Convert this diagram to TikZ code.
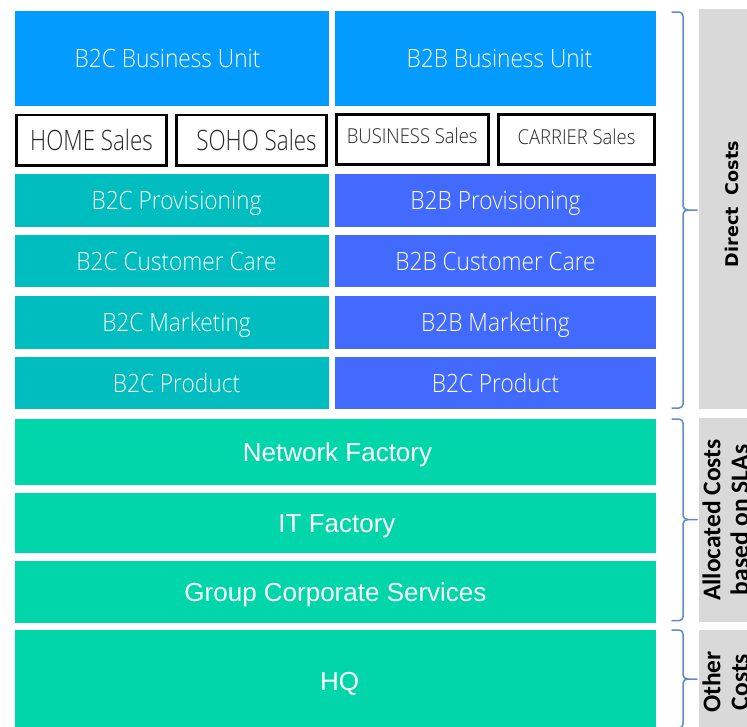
\documentclass[tikz,border=0pt]{standalone}
\usepackage{fontspec}
\setmainfont{Open Sans}
\newfontfamily\thinfont{Open Sans Light}[FakeStretch=0.9]
\newfontfamily\salesfont{Open Sans Light}[FakeStretch=0.8]
\newfontfamily\headfont{DejaVu Sans Bold}
\newfontfamily\factoryfont{Liberation Sans}
\newfontfamily\labelfont{Carlito}
\definecolor{bublue}{RGB}{3,155,254}
\definecolor{b2cteal}{RGB}{0,189,191}
\definecolor{b2bblue}{RGB}{66,106,255}
\definecolor{factory}{RGB}{0,214,169}
\definecolor{costgray}{RGB}{217,217,217}
\definecolor{bracecol}{RGB}{91,140,203}
% right-hand curly brace: top end, tip, bottom end (in px)
\newcommand\sidebrace[3]{%
  \draw[bracestyle] (672,#1) -- (679,#1) to[out=0,in=90] (683,#1+4) -- (683,#2-4)
        to[out=-90,in=180] (688,#2) -- (697,#2);
  \draw[bracestyle] (688,#2) to[out=180,in=90] (683,#2+4) -- (683,#3-4)
        to[out=-90,in=0] (679,#3) -- (672,#3);
}
\begin{document}
\begin{tikzpicture}[x=1pt,y=-1pt,
  cell/.style={inner sep=0pt, outer sep=0pt, text=white,
    text height=18pt, text depth=0pt,
    font=\thinfont\fontsize{25.2}{28}\selectfont},
  unit/.style={cell, fill=bublue, minimum height=94.5pt},
  b2ccell/.style={cell, fill=b2cteal, minimum width=314pt, minimum height=52.5pt},
  b2bcell/.style={cell, fill=b2bblue, minimum width=321pt, minimum height=52.5pt},
  sales/.style={inner sep=0pt, outer sep=0pt, draw=black, line width=2.7pt,
    fill=white, text=black!85, minimum height=50.3pt, text depth=0pt},
  bigsales/.style={sales, text height=20pt,
    font=\salesfont\fontsize{28}{32}\selectfont},
  smallsales/.style={sales, text height=14.5pt,
    font=\thinfont\fontsize{20.5}{24}\selectfont},
  fact/.style={inner sep=0pt, outer sep=0pt, fill=factory, text=white,
    minimum width=641pt, text height=18.6pt, text depth=0pt,
    font=\factoryfont\fontsize{26}{30}\selectfont},
  costbox/.style={fill=costgray, draw=none},
  costlabel/.style={rotate=90, align=center, text=black,
    font=\labelfont\bfseries\fontsize{25.5}{28}\selectfont},
  bracestyle/.style={draw=bracecol, line width=1.5pt, line cap=round, line join=round}]
\useasboundingbox (0,0) rectangle (747,726);
\clip (0,0) rectangle (747,726);

% business units
\node[unit, minimum width=314pt] (b2cbu) at (172,58.3) {B2C Business Unit\hspace*{9pt}};
\node[unit, minimum width=321pt] (b2bbu) at (495.5,58.3) {\hspace*{8pt}B2B Business Unit};

% sales channels
\node[bigsales, minimum width=150.3pt] (home) at (91.5,140) {HOME Sales};
\node[bigsales, minimum width=150.3pt] (soho) at (251.5,140) {\hspace*{10pt}SOHO Sales};
\node[smallsales, minimum width=151.8pt] (business) at (412.25,139.5) {\raisebox{3.5pt}{BUSINESS Sales}};
\node[smallsales, minimum width=156.3pt] (carrier) at (576.5,139.5) {\raisebox{2.5pt}{CARRIER Sales}};

% B2C functions
\node[b2ccell] (b2cprov) at (172,200.25) {\hspace*{9pt}B2C Provisioning};
\node[b2ccell] (b2ccare) at (172,261) {\hspace*{9pt}B2C Customer Care};
\node[b2ccell] (b2cmkt)  at (172,322.3) {\hspace*{9pt}B2C Marketing};
\node[b2ccell] (b2cprod) at (172,383) {\hspace*{9pt}B2C Product};

% B2B functions
\node[b2bcell] (b2bprov) at (495.5,200.25) {B2B Provisioning};
\node[b2bcell] (b2bcare) at (495.5,261) {B2B Customer Care};
\node[b2bcell] (b2bmkt)  at (495.5,322.3) {B2B Marketing};
\node[b2bcell] (b2bprod) at (495.5,383) {B2C Product};

% shared factories
\node[fact, minimum height=65.7pt] (network) at (335.5,451.85) {\hspace*{4pt}Network Factory};
\node[fact, minimum height=59.7pt] (itf) at (335.5,522.85) {\hspace*{3pt}IT Factory};
\node[fact, minimum height=61.7pt] (gcs) at (335.5,591.85) {Group Corporate Services};
\node[fact, minimum height=102pt] (hq) at (335.5,681) {\hspace*{8pt}HQ};

% cost category panels
\fill[costbox] (699,9) rectangle (760,409.3);
\fill[costbox] (699,418) rectangle (760,621.7);
\fill[costbox] (699,630) rectangle (760,740);

\node[rotate=90, text=black, font=\headfont\fontsize{17.5}{20}\selectfont]
  (direct) at (731.5,204) {Direct\ \ Costs};
\node[costlabel] (alloc) at (725.5,520) {Allocated Costs\\based on SLAs};
\node[costlabel] (other) at (725.5,682) {Other\\Costs};

% braces
\sidebrace{12}{210}{408}
\sidebrace{419}{519.5}{620.7}
\sidebrace{630}{679}{728}
\end{tikzpicture}
\end{document}
